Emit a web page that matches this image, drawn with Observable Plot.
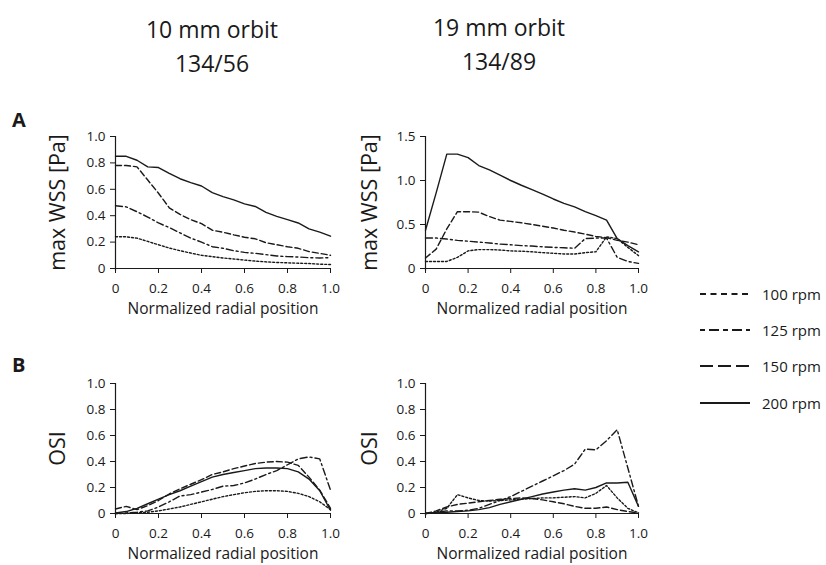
<!DOCTYPE html>
<html>
<head>
<meta charset="utf-8">
<script src="https://cdn.jsdelivr.net/npm/d3@7"></script>
<script src="https://cdn.jsdelivr.net/npm/@observablehq/plot@0.6"></script>
<style>
  html, body { margin: 0; padding: 0; background: #fff; }
  body { width: 826px; height: 565px; position: relative; overflow: hidden; font-family: "Open Sans", sans-serif; color: #1a1a1a; }
  .abs { position: absolute; }
  .title { font-size: 23px; text-align: center; line-height: 34px; width: 240px; }
  .panel { font-size: 20px; font-weight: bold; }
  .leg { font-size: 15px; display: flex; align-items: center; }
</style>
</head>
<body>
<div id="root"></div>
<script>
// ---------- data ----------
const radial = [0,0.05,0.1,0.15,0.2,0.25,0.3,0.35,0.4,0.45,0.5,0.55,0.6,0.65,0.7,0.75,0.8,0.85,0.9,0.95,1.0];
const speeds = ["100 rpm", "125 rpm", "150 rpm", "200 rpm"];
const columnTitles = [["10 mm orbit", "134/56"], ["19 mm orbit", "134/89"]];
const rowLetters = ["A", "B"];
const yLabels = ["max WSS [Pa]", "OSI"];
const xLabel = "Normalized radial position";
const xTicks = [0, 0.2, 0.4, 0.6, 0.8, 1.0];
const yTicksUnit = [0, 0.2, 0.4, 0.6, 0.8, 1.0];
const yTicksWss19 = [0, 0.5, 1.0, 1.5];

// max WSS, 10 mm orbit
const wss10_100 = [0.24,0.24,0.23,0.205,0.18,0.155,0.135,0.117,0.10,0.09,0.08,0.072,0.064,0.056,0.05,0.046,0.043,0.04,0.038,0.033,0.03];
const wss10_125 = [0.475,0.467,0.43,0.39,0.345,0.31,0.27,0.23,0.20,0.165,0.153,0.135,0.122,0.115,0.105,0.095,0.09,0.087,0.082,0.08,0.082];
const wss10_150 = [0.78,0.78,0.77,0.67,0.57,0.46,0.41,0.37,0.34,0.29,0.275,0.255,0.237,0.225,0.195,0.18,0.165,0.153,0.128,0.115,0.10];
const wss10_200 = [0.85,0.85,0.82,0.77,0.765,0.72,0.68,0.65,0.625,0.575,0.545,0.52,0.49,0.47,0.425,0.395,0.37,0.345,0.30,0.275,0.245];
// max WSS, 19 mm orbit
const wss19_100 = [0.08,0.08,0.08,0.127,0.20,0.215,0.215,0.21,0.20,0.196,0.19,0.18,0.173,0.165,0.165,0.18,0.19,0.36,0.34,0.24,0.146];
const wss19_125 = [0.346,0.346,0.335,0.32,0.31,0.30,0.29,0.277,0.27,0.26,0.255,0.246,0.24,0.235,0.23,0.34,0.346,0.346,0.127,0.08,0.058];
const wss19_150 = [0.12,0.22,0.45,0.645,0.645,0.64,0.59,0.55,0.535,0.52,0.50,0.48,0.46,0.435,0.415,0.39,0.365,0.35,0.32,0.30,0.27];
const wss19_200 = [0.435,0.86,1.3,1.3,1.26,1.17,1.12,1.06,1.0,0.946,0.896,0.846,0.79,0.74,0.70,0.646,0.60,0.55,0.34,0.26,0.19];
// OSI, 10 mm orbit
const osi10_100 = [0.0,0.0,0.005,0.01,0.02,0.035,0.05,0.07,0.09,0.11,0.13,0.145,0.16,0.17,0.175,0.175,0.17,0.155,0.13,0.09,0.03];
const osi10_125 = [0.0,0.005,0.01,0.02,0.05,0.09,0.135,0.145,0.165,0.185,0.21,0.215,0.235,0.265,0.30,0.33,0.375,0.42,0.435,0.42,0.18];
const osi10_150 = [0.035,0.055,0.03,0.06,0.10,0.15,0.19,0.225,0.26,0.30,0.32,0.345,0.365,0.385,0.395,0.40,0.395,0.37,0.28,0.18,0.04];
const osi10_200 = [0.005,0.015,0.04,0.075,0.11,0.145,0.175,0.21,0.245,0.28,0.30,0.315,0.33,0.345,0.35,0.35,0.345,0.32,0.265,0.175,0.025];
// OSI, 19 mm orbit
const osi19_100 = [0.0,0.01,0.04,0.145,0.12,0.10,0.095,0.10,0.105,0.11,0.115,0.12,0.12,0.125,0.13,0.12,0.155,0.215,0.12,0.04,0.005];
const osi19_125 = [0.0,0.01,0.02,0.02,0.025,0.04,0.07,0.10,0.13,0.17,0.21,0.25,0.29,0.33,0.38,0.495,0.49,0.56,0.645,0.35,0.055];
const osi19_150 = [0.0,0.02,0.05,0.07,0.08,0.09,0.10,0.11,0.115,0.12,0.115,0.105,0.09,0.075,0.055,0.04,0.04,0.05,0.03,0.015,0.005];
const osi19_200 = [0.0,0.005,0.01,0.015,0.02,0.03,0.045,0.07,0.09,0.11,0.13,0.15,0.165,0.18,0.19,0.18,0.20,0.235,0.235,0.24,0.055];

// ---------- styles ----------
const FONT = "'Open Sans', sans-serif";
const INK = "#1a1a1a";
const plotDash = {"100 rpm": "2,2", "125 rpm": "7,3,2,3", "150 rpm": "6,3", "200 rpm": null};
const legendDash = {"100 rpm": "6,4.5", "125 rpm": "5,4,10,4", "150 rpm": "13,5", "200 rpm": null};

const fmt = d => d === 0 ? "0" : d.toFixed(1);

function panel(seriesList, yMax, yTicks, yLabel, opts) {
  const marks = [
    Plot.ruleY([0], {x1: 0, x2: 1, stroke: INK, strokeWidth: 1.2}),
    Plot.ruleX([0], {y1: -yMax * 0.02, y2: yMax, stroke: INK, strokeWidth: 1.2}),
  ];
  seriesList.forEach((vals, i) => {
    const data = radial.map((r, j) => ({r, v: vals[j]}));
    const dash = plotDash[speeds[i]];
    const o = {x: "r", y: "v", stroke: INK, strokeWidth: 1.4};
    if (dash) o.strokeDasharray = dash;
    marks.push(Plot.line(data, o));
  });
  marks.push(Plot.text([yLabel], {frameAnchor: "left", dx: opts.ylabDx, rotate: -90, textAnchor: "middle", lineAnchor: "middle", fontSize: "21.5px", fill: INK}));
  marks.push(Plot.text([xLabel], {frameAnchor: "bottom", dy: 41, textAnchor: "middle", lineAnchor: "middle", fontSize: "15.5px", fill: INK}));
  return Plot.plot({
    width: opts.width, height: opts.height,
    marginLeft: opts.ml, marginRight: opts.mr, marginTop: opts.mt, marginBottom: opts.mb,
    style: {fontFamily: FONT, fontSize: "13.5px", color: INK, background: "transparent", overflow: "visible"},
    x: {domain: [0, 1], ticks: xTicks, tickFormat: fmt, tickSize: 5, tickPadding: 10, label: null},
    y: {domain: [0, yMax], ticks: yTicks, tickFormat: fmt, tickSize: 5, tickPadding: 5, label: null},
    marks
  });
}

const root = document.getElementById("root");
function place(el, left, top) {
  el.classList.add("abs");
  el.style.left = left + "px";
  el.style.top = top + "px";
  root.appendChild(el);
}

// panels
const gA = {height: 230, mt: 36, mb: 62};   // y(1)=136, y(0)=268 with top=100
const gB = {height: 220, mt: 38, mb: 52};   // y(1)=383, y(0)=513 with top=345
const cL = {left: 0, width: 345, ml: 115, mr: 15, ylabDx: -57};
const cR = {left: 310, width: 343, ml: 115, mr: 15, ylabDx: -55};

place(panel([wss10_100, wss10_125, wss10_150, wss10_200], 1.0, yTicksUnit, yLabels[0], {...cL, ...gA}), cL.left, 100);
place(panel([wss19_100, wss19_125, wss19_150, wss19_200], 1.5, yTicksWss19, yLabels[0], {...cR, ...gA}), cR.left, 100);
place(panel([osi10_100, osi10_125, osi10_150, osi10_200], 1.0, yTicksUnit, yLabels[1], {...cL, ...gB}), cL.left, 345);
place(panel([osi19_100, osi19_125, osi19_150, osi19_200], 1.0, yTicksUnit, yLabels[1], {...cR, ...gB}), cR.left, 345);

// column titles
[[212, 12], [499, 10]].forEach(([cx, top], i) => {
  const d = document.createElement("div");
  d.className = "title";
  d.innerHTML = columnTitles[i].join("<br>");
  d.style.width = "240px";
  place(d, cx - 120, top);
});

// row letters
[[12, 106], [12, 351]].forEach(([x, y], i) => {
  const d = document.createElement("div");
  d.className = "panel";
  d.textContent = rowLetters[i];
  place(d, x, y);
});

// legend
const legY = [294, 330, 366, 403];
speeds.forEach((s, i) => {
  const d = document.createElement("div");
  d.className = "leg";
  const dash = legendDash[s];
  d.innerHTML = `<svg width="52" height="6" style="margin-right:11px"><line x1="1" y1="3" x2="51" y2="3" stroke="${INK}" stroke-width="2.2" ${dash ? `stroke-dasharray="${dash}"` : ""}/></svg><span>${s}</span>`;
  place(d, 699, legY[i] - 11);
  d.style.height = "22px";
});
</script>
</body>
</html>
